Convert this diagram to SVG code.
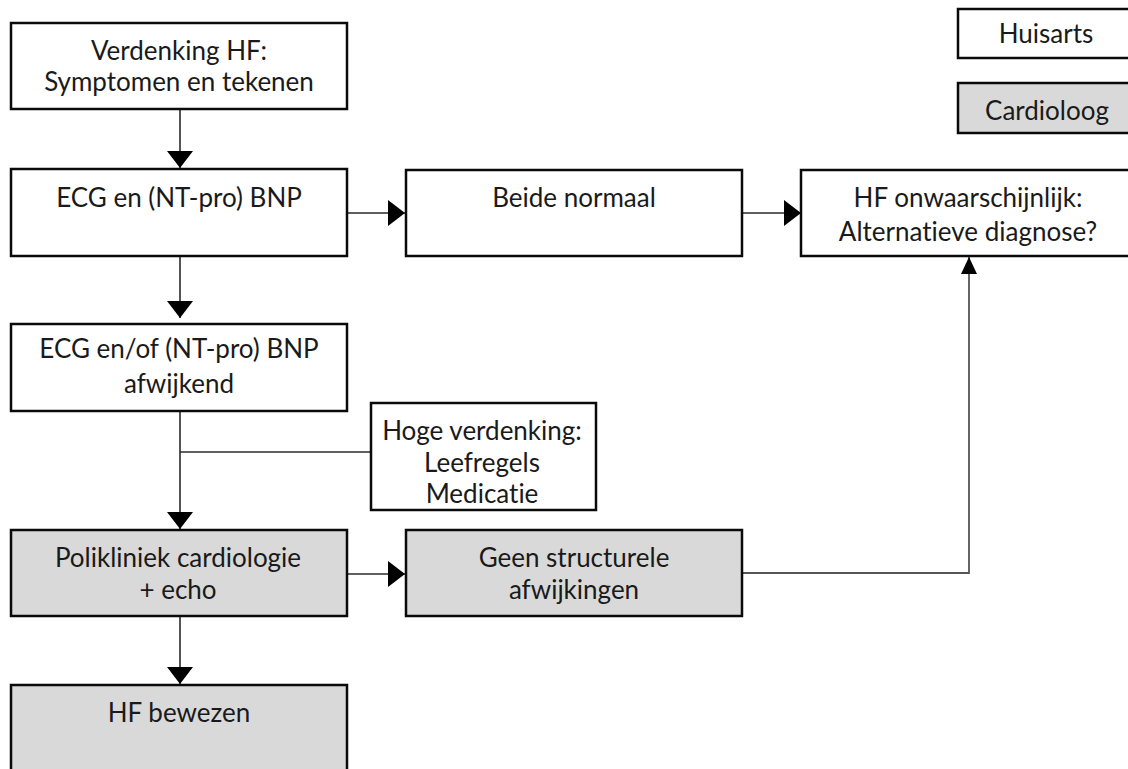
<svg xmlns="http://www.w3.org/2000/svg" width="1128" height="769" viewBox="0 0 1128 769">
<defs>
<style>
.box{stroke:#0a0a0a;stroke-width:2.5}
.w{fill:#ffffff}
.g{fill:#d9d9d9}
text{font-family:Lato,"Liberation Sans",sans-serif;font-size:26px;fill:#1a1a1a;text-anchor:middle;font-variant-ligatures:none}
.c{fill:none;stroke:#2a2a2a;stroke-width:1.6}
.c2{fill:none;stroke:#555555;stroke-width:1.8}
</style>
<marker id="ah" viewBox="0 0 17 26" refX="17" refY="13" markerWidth="17" markerHeight="26" markerUnits="userSpaceOnUse" orient="auto">
<path d="M0,0 L17,13 L0,26 z" fill="#000"/>
</marker>
<marker id="ahs" viewBox="0 0 17 16" refX="17" refY="8" markerWidth="17" markerHeight="16" markerUnits="userSpaceOnUse" orient="auto">
<path d="M0,0 L17,8 L0,16 z" fill="#000"/>
</marker>
</defs>
<rect width="1128" height="769" fill="#ffffff"/>

<g id="connectors">
<line class="c" x1="180" y1="109" x2="180" y2="168" marker-end="url(#ah)"/>
<line class="c" x1="180" y1="256" x2="180" y2="318" marker-end="url(#ah)"/>
<line class="c" x1="347" y1="213" x2="405" y2="213" marker-end="url(#ah)"/>
<line class="c" x1="742" y1="213" x2="801" y2="213" marker-end="url(#ah)"/>
<line class="c" x1="180" y1="411" x2="180" y2="529" marker-end="url(#ah)"/>
<line class="c" x1="180" y1="452" x2="371" y2="452"/>
<line class="c" x1="347" y1="574" x2="405" y2="574" marker-end="url(#ah)"/>
<line class="c" x1="180" y1="616" x2="180" y2="684" marker-end="url(#ah)"/>
<polyline class="c2" points="742,573 969,573 969,257" marker-end="url(#ahs)"/>
</g>

<g id="n-verdenking">
<rect class="box w" x="11" y="23" width="336" height="86"/>
<text x="179" y="60">Verdenking HF:</text>
<text x="179" y="91">Symptomen en tekenen</text>
</g>

<g id="n-ecg">
<rect class="box w" x="11" y="169" width="336" height="87"/>
<text x="179" y="207">ECG en (NT-pro) BNP</text>
</g>

<g id="n-beide">
<rect class="box w" x="406" y="170" width="336" height="86"/>
<text x="574" y="207">Beide normaal</text>
</g>

<g id="n-onwaarschijnlijk">
<rect class="box w" x="801" y="170" width="340" height="86"/>
<text x="968" y="207">HF onwaarschijnlijk:</text>
<text x="968" y="241">Alternatieve diagnose?</text>
</g>

<g id="n-afwijkend">
<rect class="box w" x="11" y="324" width="336" height="87"/>
<text x="179" y="358">ECG en/of (NT-pro) BNP</text>
<text x="179" y="393">afwijkend</text>
</g>

<g id="n-hoge">
<rect class="box w" x="371" y="403" width="225" height="107"/>
<text x="482" y="440">Hoge verdenking:</text>
<text x="482" y="472">Leefregels</text>
<text x="482" y="503">Medicatie</text>
</g>

<g id="n-polikliniek">
<rect class="box g" x="11" y="530" width="336" height="86"/>
<text x="178" y="567">Polikliniek cardiologie</text>
<text x="178" y="599">+ echo</text>
</g>

<g id="n-geen">
<rect class="box g" x="406" y="530" width="336" height="86"/>
<text x="574" y="567">Geen structurele</text>
<text x="574" y="599">afwijkingen</text>
</g>

<g id="n-bewezen">
<rect class="box g" x="11" y="685" width="336" height="100"/>
<text x="179" y="722">HF bewezen</text>
</g>

<g id="legend-huisarts">
<rect class="box w" x="958" y="9" width="180" height="49"/>
<text x="1046" y="43">Huisarts</text>
</g>

<g id="legend-cardioloog">
<rect class="box g" x="958" y="83" width="180" height="50"/>
<text x="1047" y="120">Cardioloog</text>
</g>
</svg>
